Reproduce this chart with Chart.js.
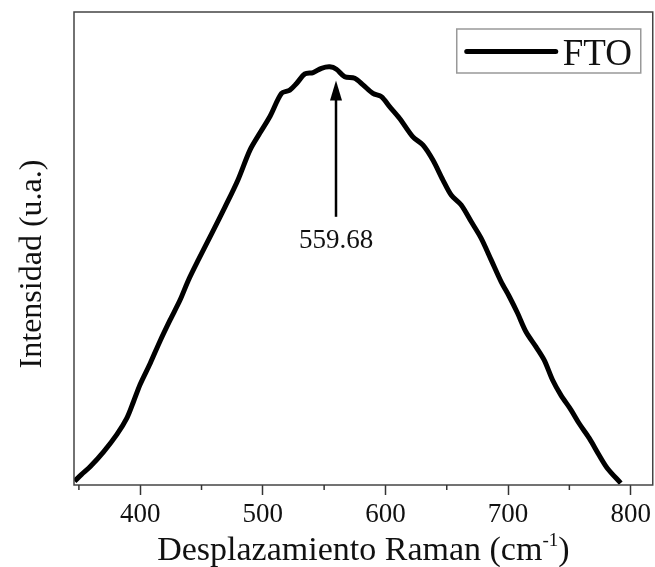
<!DOCTYPE html>
<html>
<head>
<meta charset="utf-8">
<title>FTO Raman</title>
<script src="https://cdn.jsdelivr.net/npm/chart.js@4.4.1/dist/chart.umd.min.js"></script>
<style>
  html, body { margin: 0; padding: 0; background: #fff; }
  #wrap { width: 655px; height: 567px; }
</style>
</head>
<body>
<div id="wrap"><canvas id="ramanChart" width="655" height="567"></canvas></div>
<script>
// espectro Raman del FTO (desplazamiento en cm-1, intensidad relativa)
const ramanShift = [346.5, 352, 359.3, 370.1, 381.0, 389.2, 394.5, 400, 408.1, 416.3, 424.4, 432.5, 439.3, 447.4,
  458.6, 469.2, 479.7, 489.5, 497.6, 505.8, 515.3, 522, 527.5, 534.3, 541, 547.8, 554.6, 560, 566.8, 574.9,
  581.7, 589.8, 596.7, 603.4, 611.6, 622.4, 630.5, 638.7, 646.8, 653.6, 661.8, 669.9, 678, 686.2, 694.3,
  701.1, 707.8, 714.6, 722.8, 729.5, 736.3, 743.1, 751.3, 758, 766.2, 774.3, 781.1, 791.9];
const intensity = [0.8, 2.2, 3.9, 7.0, 10.7, 14.2, 17.6, 21.3, 25.7, 30.5, 34.9, 39.1, 43.3, 47.6,
  53.3, 58.8, 64.5, 70.8, 74.4, 77.9, 82.8, 83.5, 84.9, 86.9, 87.2, 88.1, 88.4, 87.9, 86.3, 86.0,
  84.6, 82.8, 82.1, 80.0, 77.5, 73.6, 71.9, 68.7, 64.5, 61.3, 59.2, 55.7, 52.2, 47.6, 43.0,
  39.8, 36.3, 32.4, 29.2, 26.4, 22.2, 19.0, 15.9, 13.0, 9.9, 6.3, 3.5, 0.4];
const xTickLabels = [400, 500, 600, 700, 800];
const peakLabel = ['559.68'];
const peakPosition = [559.68];
const seriesName = 'FTO';

const SERIF = '"Liberation Serif", "Times New Roman", serif';

const points = ramanShift.map((x, i) => ({ x: x, y: intensity[i] }));

// marco, ticks menores, titulos, flecha del pico y leyenda
const extras = {
  id: 'extras',
  afterDraw(chart) {
    const ctx = chart.ctx;
    const a = chart.chartArea;
    const xs = chart.scales.x;
    const ys = chart.scales.y;
    ctx.save();

    // marco del grafico
    ctx.strokeStyle = '#444';
    ctx.lineWidth = 1.5;
    ctx.strokeRect(a.left, a.top, a.right - a.left, a.bottom - a.top);

    // ticks menores cada 50
    ctx.strokeStyle = '#333';
    ctx.lineWidth = 1.5;
    for (let v = 350; v <= xs.max; v += 100) {
      const px = xs.getPixelForValue(v);
      ctx.beginPath();
      ctx.moveTo(px, a.bottom);
      ctx.lineTo(px, a.bottom + 5);
      ctx.stroke();
    }

    // titulo eje X con superindice
    ctx.fillStyle = '#111';
    ctx.textBaseline = 'alphabetic';
    const main = 'Desplazamiento Raman (cm';
    const sup = '-1';
    const tail = ')';
    ctx.font = '34px ' + SERIF;
    const wMain = ctx.measureText(main).width;
    const wTail = ctx.measureText(tail).width;
    ctx.font = '19px ' + SERIF;
    const wSup = ctx.measureText(sup).width;
    const total = wMain + wSup + wTail;
    let tx = (a.left + a.right) / 2 - total / 2;
    const by = 560;
    ctx.textAlign = 'left';
    ctx.font = '34px ' + SERIF;
    ctx.fillText(main, tx, by);
    tx += wMain;
    ctx.font = '19px ' + SERIF;
    ctx.fillText(sup, tx, by - 14);
    tx += wSup;
    ctx.font = '34px ' + SERIF;
    ctx.fillText(tail, tx, by);

    // titulo eje Y
    ctx.save();
    ctx.translate(41, 264);
    ctx.rotate(-Math.PI / 2);
    ctx.textAlign = 'center';
    ctx.font = '32px ' + SERIF;
    ctx.fillText('Intensidad (u.a.)', 0, 0);
    ctx.restore();

    // flecha al pico
    const ax = xs.getPixelForValue(peakPosition[0]);
    const tipY = ys.getPixelForValue(85.5);
    const endY = ys.getPixelForValue(56.7);
    ctx.strokeStyle = '#000';
    ctx.fillStyle = '#000';
    ctx.lineWidth = 2.5;
    ctx.beginPath();
    ctx.moveTo(ax, endY);
    ctx.lineTo(ax, tipY + 15);
    ctx.stroke();
    ctx.beginPath();
    ctx.moveTo(ax, tipY);
    ctx.lineTo(ax - 6, tipY + 20);
    ctx.lineTo(ax + 6, tipY + 20);
    ctx.closePath();
    ctx.fill();
    ctx.fillStyle = '#111';
    ctx.textAlign = 'center';
    ctx.font = '27px ' + SERIF;
    ctx.fillText(peakLabel[0], ax, endY + 31);

    // leyenda
    const ds = chart.data.datasets[0];
    const lx = a.right - 196, ly = a.top + 17, lw = 184, lh = 44;
    ctx.strokeStyle = '#999';
    ctx.lineWidth = 1.5;
    ctx.strokeRect(lx, ly, lw, lh);
    ctx.strokeStyle = ds.borderColor;
    ctx.lineWidth = 5;
    ctx.lineCap = 'round';
    ctx.beginPath();
    ctx.moveTo(lx + 10, ly + 22.5);
    ctx.lineTo(lx + 99, ly + 22.5);
    ctx.stroke();
    ctx.fillStyle = '#111';
    ctx.textAlign = 'left';
    ctx.font = '37px ' + SERIF;
    ctx.fillText(ds.label, lx + 106, ly + 36);

    ctx.restore();
  }
};

new Chart(document.getElementById('ramanChart'), {
  type: 'line',
  data: {
    datasets: [{
      label: seriesName,
      data: points,
      borderColor: '#000',
      borderWidth: 5,
      pointRadius: 0,
      tension: 0.3,
      borderJoinStyle: 'round',
      fill: false
    }]
  },
  options: {
    responsive: false,
    animation: false,
    layout: { padding: { left: 74, top: 12, right: 2, bottom: 0 } },
    plugins: { legend: { display: false }, tooltip: { enabled: false } },
    scales: {
      x: {
        type: 'linear',
        min: 346,
        max: 818,
        afterFit(scale) { scale.height = 82; },
        border: { display: false },
        grid: {
          drawOnChartArea: false,
          drawTicks: true,
          tickLength: 10,
          tickWidth: 1.5,
          tickColor: (c) => (xTickLabels.includes(c.tick.value) ? '#333' : 'rgba(0,0,0,0)')
        },
        ticks: {
          stepSize: 50,
          includeBounds: false,
          autoSkip: false,
          maxRotation: 0,
          padding: 4,
          color: '#111',
          font: { family: SERIF, size: 27 },
          callback: (v) => (xTickLabels.includes(v) ? String(v) : '')
        }
      },
      y: {
        display: false,
        min: 0,
        max: 100
      }
    }
  },
  plugins: [extras]
});
</script>
</body>
</html>
